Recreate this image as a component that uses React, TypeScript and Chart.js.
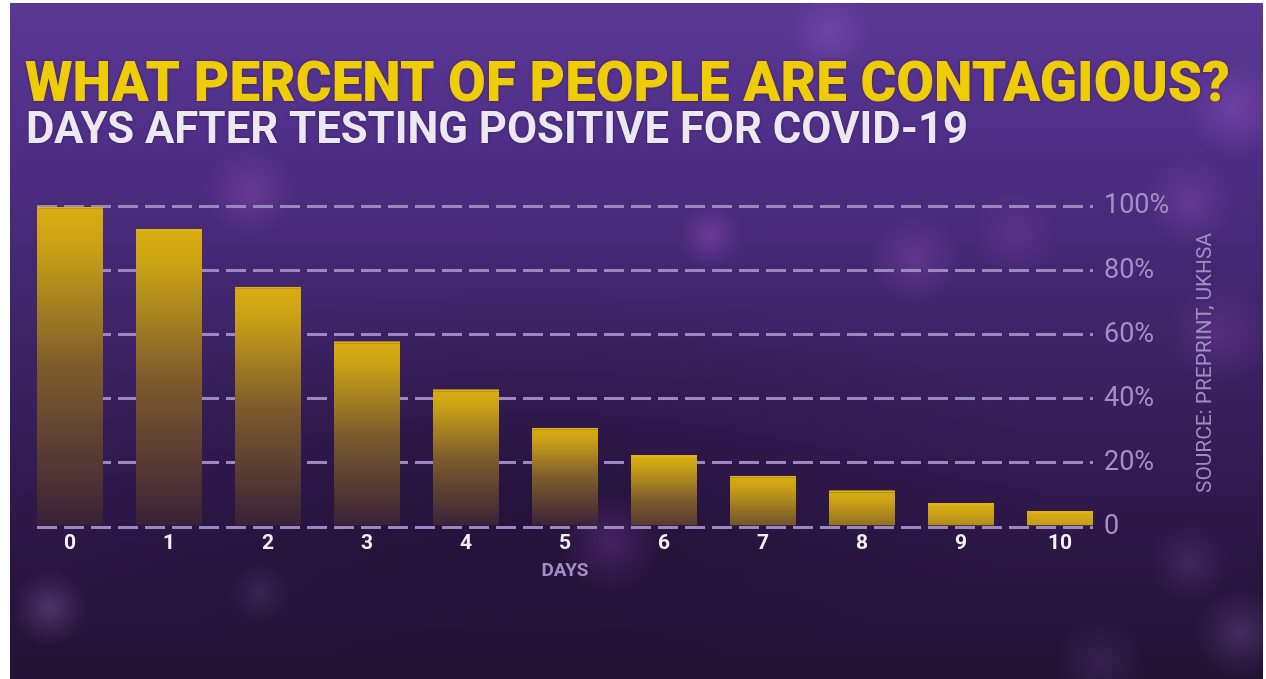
import React, { useEffect, useRef } from "react";
import { Chart, registerables } from "chart.js";

Chart.register(...registerables);

const TITLE = "WHAT PERCENT OF PEOPLE ARE CONTAGIOUS?";
const SUBTITLE = "DAYS AFTER TESTING POSITIVE FOR COVID-19";
const SOURCE = "SOURCE: PREPRINT, UKHSA";
const X_TITLE = "DAYS";

const days = ["0", "1", "2", "3", "4", "5", "6", "7", "8", "9", "10"];
const contagiousPercent = [100, 93, 75, 58, 43, 31, 22.5, 16, 11.5, 7.5, 5];
const yTickValues = [0, 20, 40, 60, 80, 100];

const W = 1253;
const H = 676;
const GRID_COLOR = "#9c88c0";

function drawFitted(ctx: CanvasRenderingContext2D, text: string, x: number, y: number, width: number) {
  const m = ctx.measureText(text).width;
  ctx.save();
  ctx.translate(x, y);
  ctx.scale(width / m, 1);
  ctx.fillText(text, 0, 0);
  ctx.restore();
}

const decorPlugin = {
  id: "decor",
  afterDatasetsDraw(chart: any) {
    const y = chart.scales.y;
    const { left, right } = chart.chartArea;
    const ctx: CanvasRenderingContext2D = chart.ctx;
    const py = Math.round(y.getPixelForValue(0)) + 0.5;
    ctx.save();
    ctx.setLineDash([20, 7]);
    ctx.lineWidth = 3;
    ctx.strokeStyle = GRID_COLOR;
    ctx.beginPath();
    ctx.moveTo(left, py);
    ctx.lineTo(right, py);
    ctx.stroke();
    ctx.restore();
  },
  afterDraw(chart: any) {
    const ctx: CanvasRenderingContext2D = chart.ctx;
    ctx.save();
    ctx.textBaseline = "alphabetic";
    ctx.textAlign = "left";
    ctx.shadowColor = "rgba(40,10,60,0.55)";
    ctx.shadowBlur = 3;
    ctx.font = "900 56px Roboto";
    ctx.fillStyle = "#eecd06";
    drawFitted(ctx, TITLE, 15, 98, 1205);
    ctx.font = "bold 45px Roboto";
    ctx.fillStyle = "#ebe8f0";
    drawFitted(ctx, SUBTITLE, 16, 140, 942);
    ctx.restore();

    ctx.save();
    ctx.translate(1196, 360);
    ctx.rotate(-Math.PI / 2);
    ctx.font = "20px Roboto";
    ctx.fillStyle = "rgba(178,160,210,0.85)";
    ctx.textAlign = "center";
    ctx.textBaseline = "middle";
    const m = ctx.measureText(SOURCE).width;
    ctx.scale(260 / m, 1);
    ctx.fillText(SOURCE, 0, 0);
    ctx.restore();
  },
};

export default function App() {
  const ref = useRef<HTMLCanvasElement | null>(null);

  useEffect(() => {
    if (!ref.current) return;
    const points = days.map((_, i) => ({ x: i, y: contagiousPercent[i] }));
    const chart = new Chart(ref.current, {
      type: "bar",
      data: {
        datasets: [
          {
            data: points,
            backgroundColor: (c: any) => {
              const ch = c.chart;
              if (!ch.chartArea || c.type !== "data" || !c.parsed) return "#c9a014";
              const y = ch.scales.y;
              const top = y.getPixelForValue(c.parsed.y);
              const base = y.getPixelForValue(0);
              const h = base - top;
              const L = Math.max(h, 90);
              const g = ch.ctx.createLinearGradient(0, top, 0, top + L);
              g.addColorStop(0, "#d8ad10");
              g.addColorStop(0.12, "#cba215");
              g.addColorStop(0.5, "#7c5c2c");
              g.addColorStop(1, "#392138");
              return g;
            },
            borderColor: "#e0b512",
            borderWidth: { top: 2, left: 0, right: 0, bottom: 0 },
            borderSkipped: false,
            categoryPercentage: 1,
            barPercentage: 0.667,
          },
        ],
      },
      options: {
        responsive: false,
        animation: false,
        devicePixelRatio: 1,
        layout: { padding: { left: 27, top: 203.7, right: 0, bottom: 72 } },
        plugins: {
          legend: { display: false },
          tooltip: { enabled: false },
          title: { display: false },
        },
        scales: {
          x: {
            type: "linear",
            offset: false,
            min: -1 / 3,
            max: days.length - 1 + 1 / 3,
            grid: { display: false, drawTicks: false },
            border: { display: false },
            afterBuildTicks: (s: any) => {
              s.ticks = days.map((_, i) => ({ value: i }));
            },
            ticks: {
              color: "#f2f0f5",
              font: { family: "Roboto", weight: "bold", size: 21 },
              padding: 4,
              maxRotation: 0,
              autoSkip: false,
              callback: (v: any) => days[Number(v)] ?? "",
            },
            title: {
              display: true,
              text: X_TITLE,
              color: "#a38dc6",
              font: { family: "Roboto", weight: "bold", size: 19 },
              padding: { top: 0, bottom: 24 },
            },
            afterFit: (s: any) => {
              s.height = 80;
            },
          },
          y: {
            position: "right",
            min: 0,
            max: 100,
            grid: {
              display: true,
              drawTicks: false,
              color: GRID_COLOR,
              lineWidth: 3,
            },
            border: { display: false, dash: [20, 7] },
            afterBuildTicks: (s: any) => {
              s.ticks = yTickValues.map((v) => ({ value: v }));
            },
            ticks: {
              color: "#a68fc8",
              font: { family: "Roboto", weight: "normal", size: 27 },
              padding: 11,
              callback: (v: any) => (Number(v) === 0 ? "0" : v + "%"),
            },
            afterFit: (s: any) => {
              s.width = W - 1083;
            },
          },
        },
      },
      plugins: [decorPlugin],
    });
    return () => chart.destroy();
  }, []);

  const bg = [
    "radial-gradient(circle at 700px 232px, rgba(150,80,190,0.45) 0px, rgba(150,80,190,0) 32px)",
    "radial-gradient(circle at 905px 255px, rgba(150,80,190,0.35) 0px, rgba(150,80,190,0) 45px)",
    "radial-gradient(circle at 1005px 230px, rgba(150,80,190,0.25) 0px, rgba(150,80,190,0) 40px)",
    "radial-gradient(circle at 1225px 105px, rgba(160,90,200,0.35) 0px, rgba(160,90,200,0) 50px)",
    "radial-gradient(circle at 1180px 200px, rgba(160,90,200,0.30) 0px, rgba(160,90,200,0) 45px)",
    "radial-gradient(circle at 1210px 330px, rgba(150,80,190,0.25) 0px, rgba(150,80,190,0) 50px)",
    "radial-gradient(circle at 820px 30px, rgba(160,100,210,0.30) 0px, rgba(160,100,210,0) 40px)",
    "radial-gradient(circle at 240px 190px, rgba(170,90,190,0.30) 0px, rgba(170,90,190,0) 45px)",
    "radial-gradient(circle at 600px 540px, rgba(130,60,170,0.35) 0px, rgba(130,60,170,0) 50px)",
    "radial-gradient(circle at 40px 605px, rgba(120,90,150,0.45) 0px, rgba(120,90,150,0) 38px)",
    "radial-gradient(circle at 250px 590px, rgba(100,80,140,0.30) 0px, rgba(100,80,140,0) 30px)",
    "radial-gradient(circle at 1230px 630px, rgba(110,80,150,0.40) 0px, rgba(110,80,150,0) 45px)",
    "radial-gradient(circle at 1180px 560px, rgba(110,80,150,0.30) 0px, rgba(110,80,150,0) 40px)",
    "radial-gradient(circle at 1090px 660px, rgba(110,80,150,0.25) 0px, rgba(110,80,150,0) 45px)",
    "radial-gradient(ellipse 520px 200px at 520px 480px, rgba(20,8,30,0.35) 0px, rgba(20,8,30,0) 520px)",
    "linear-gradient(180deg, #5a3894 0%, #51308a 18%, #482a7a 32%, #3f2468 48%, #341c55 66%, #2a1642 82%, #221233 100%)",
  ].join(", ");

  return (
    <div
      style={{
        position: "absolute",
        left: 10,
        top: 3,
        width: W,
        height: H,
        background: bg,
        overflow: "hidden",
      }}
    >
      <canvas ref={ref} width={W} height={H} style={{ display: "block", width: W, height: H }} />
    </div>
  );
}
